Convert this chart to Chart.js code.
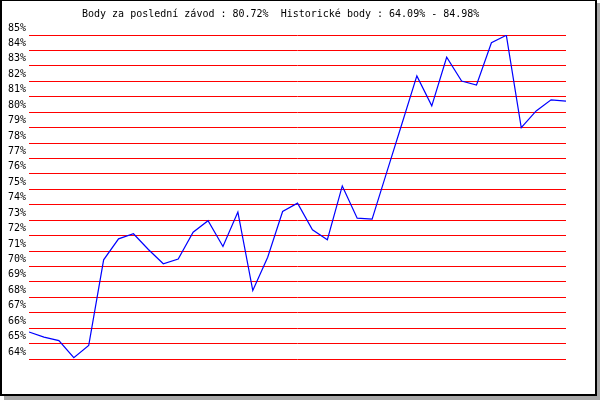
<!DOCTYPE html>
<html>
<head>
<meta charset="utf-8">
<script src="https://cdn.jsdelivr.net/npm/chart.js@4.4.1/dist/chart.umd.min.js"></script>
<style>
  html, body { margin: 0; padding: 0; background: #ffffff; }
  #wrap { position: relative; width: 600px; height: 400px; }
</style>
</head>
<body>
<div id="wrap"><canvas id="pointsChart" width="600" height="400"></canvas></div>
<script>
  // race index (one entry per race)
  const races = [
    1, 2, 3, 4, 5, 6, 7, 8, 9, 10, 11, 12, 13, 14, 15, 16, 17, 18, 19,
    20, 21, 22, 23, 24, 25, 26, 27, 28, 29, 30, 31, 32, 33, 34, 35, 36, 37,
  ];

  // historical points in %
  const points = [
    65.75, 65.42, 65.19, 64.09, 64.88, 70.43, 71.79, 72.12, 71.1, 70.17,
    70.48, 72.22, 72.96, 71.29, 73.52, 68.44, 70.6, 73.56, 74.1, 72.37,
    71.73, 75.22, 73.13, 73.07, 76.16, 79.25, 82.35, 80.41, 83.56, 82.02,
    81.76, 84.5, 84.98, 79.0, 80.08, 80.8, 80.72,
  ];

  const yMin = 64;
  const yMax = 85;
  const titleText =
    "Body za poslední závod : 80.72%  Historické body : 64.09% - 84.98%";

  // frame with shadow + header text
  const framePlugin = {
    id: "frame",
    beforeDraw(chart) {
      const c = chart.ctx;
      c.save();
      c.fillStyle = "#ffffff";
      c.fillRect(0, 0, 600, 400);
      c.fillStyle = "#a8a8a8";
      c.fillRect(4, 3, 596, 397);
      c.fillStyle = "#000000";
      c.fillRect(0, 0, 597, 396);
      c.fillStyle = "#ffffff";
      c.fillRect(2, 1, 593, 393);
      c.restore();
    },
    afterDraw(chart) {
      const c = chart.ctx;
      c.save();
      c.fillStyle = "#000000";
      c.font = "10px 'DejaVu Sans Mono'";
      c.textBaseline = "alphabetic";
      c.fillText(titleText, 82, 17);
      c.restore();
    },
  };

  const ctx = document.getElementById("pointsChart");

  const line1 = new Chart(ctx, {
    type: "line",
    data: {
      labels: races,
      datasets: [
        {
          label: "Body",
          data: points,
          borderColor: "#0000ff",
          borderWidth: 1.2,
          pointRadius: 0,
          tension: 0,
          fill: false,
        },
      ],
    },
    options: {
      responsive: false,
      animation: false,
      layout: {
        padding: { top: 35, bottom: 41, left: 5, right: 34 },
      },
      scales: {
        x: {
          display: false,
          offset: false,
        },
        y: {
          min: yMin,
          max: yMax,
          border: {
            display: false,
          },
          grid: {
            color: "#ff0000",
            lineWidth: 1,
            drawTicks: false,
          },
          ticks: {
            stepSize: 1,
            padding: 3,
            labelOffset: -7,
            color: "#000000",
            font: {
              family: "'DejaVu Sans Mono'",
              size: 10,
            },
            callback: (v) => v + "%",
          },
        },
      },
      plugins: {
        legend: {
          display: false,
        },
        tooltip: {
          enabled: false,
        },
      },
    },
    plugins: [framePlugin],
  });
</script>
</body>
</html>
